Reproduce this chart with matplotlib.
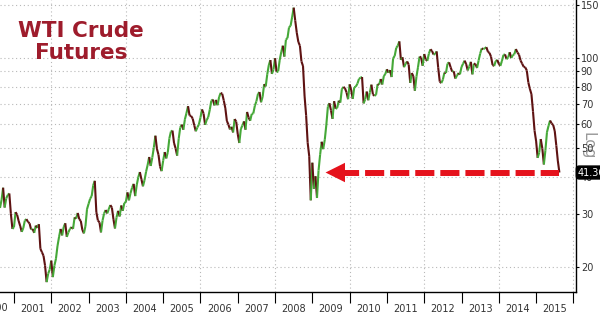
import matplotlib
matplotlib.use('Agg')
import matplotlib.pyplot as plt
from matplotlib.collections import LineCollection
import numpy as np

# WTI front month, semi-monthly readings (1st and 15th)
start_year = 2000.625  # mid-August 2000
p2000 = [31.5, 33.5, 36.8, 31.6, 33.9, 34.8, 35.2, 30.1, 26.8]
p2001 = [27.2, 30.5, 29.9, 28.5, 27.4, 26.2, 27.0, 28.6, 28.9, 28.3, 28.0, 26.7,
         26.8, 26.0, 27.5, 27.0, 27.8, 23.0, 22.4, 21.8, 20.2, 17.8, 19.0, 19.6]
p2002 = [21.0, 18.5, 20.2, 21.3, 23.5, 25.2, 26.8, 25.5, 27.2, 28.0, 25.2, 26.1,
         26.8, 27.2, 26.8, 29.3, 29.0, 30.3, 28.9, 28.5, 26.6, 25.9, 27.4, 31.2]
p2003 = [32.5, 33.8, 34.5, 37.5, 38.8, 30.5, 28.6, 28.2, 26.1, 28.6, 30.2, 31.0,
         30.2, 31.2, 32.2, 31.6, 28.9, 26.9, 29.3, 30.8, 29.5, 32.1, 30.8, 32.7]
p2004 = [33.0, 35.5, 33.4, 35.3, 36.8, 37.9, 34.5, 37.6, 39.9, 41.5, 39.3, 37.2,
         39.0, 41.6, 43.8, 46.6, 43.5, 46.4, 50.1, 54.9, 49.6, 47.4, 43.3, 41.8]
p2005 = [45.3, 48.4, 46.1, 48.4, 53.8, 56.7, 57.1, 51.9, 49.8, 47.1, 53.6, 58.5,
         59.8, 57.5, 62.3, 65.3, 68.9, 64.1, 63.9, 62.6, 59.5, 56.8, 58.5, 59.9]
p2006 = [63.1, 67.2, 65.1, 59.7, 61.9, 63.3, 67.0, 71.9, 72.5, 69.3, 72.3, 69.4,
         73.9, 76.3, 75.8, 72.0, 67.9, 61.5, 59.8, 57.6, 58.8, 56.3, 62.4, 61.2]
p2007 = [55.6, 51.9, 57.8, 59.4, 61.3, 57.5, 65.9, 63.1, 61.6, 64.9, 65.1, 69.1,
         71.5, 75.6, 76.8, 71.0, 74.0, 81.6, 80.2, 88.1, 94.5, 98.2, 88.3, 91.4]
p2008 = [99.6, 89.5, 90.0, 98.2, 104.5, 109.7, 100.9, 114.9, 116.3, 126.3, 127.8, 136.7,
         147.0, 133.0, 121.1, 112.9, 109.7, 97.2, 93.8, 74.5, 64.2, 52.0, 46.9, 33.4]
p2009 = [44.6, 36.5, 40.2, 34.0, 42.0, 47.4, 52.4, 49.5, 53.2, 59.6, 68.6, 70.5,
         66.7, 62.5, 71.6, 67.5, 68.0, 71.9, 70.8, 78.5, 79.9, 79.1, 76.6, 72.7]
p2010 = [81.5, 78.0, 72.9, 79.7, 80.1, 81.9, 84.9, 85.8, 86.2, 70.4, 72.6, 77.1,
         72.1, 76.5, 81.3, 75.4, 74.6, 75.2, 81.6, 81.3, 84.9, 81.4, 86.8, 88.3]
p2011 = [91.5, 89.1, 90.9, 86.2, 99.6, 101.4, 107.9, 109.7, 113.4, 98.4, 100.4, 93.0,
         95.4, 97.2, 94.9, 82.4, 88.9, 86.8, 77.6, 86.4, 93.0, 100.9, 100.2, 94.0]
p2012 = [102.9, 98.7, 97.6, 103.2, 106.7, 105.4, 102.5, 102.8, 105.0, 92.6, 83.2, 82.3,
         84.5, 89.2, 88.9, 95.6, 96.5, 92.9, 89.9, 90.1, 85.2, 86.9, 88.9, 88.0]
p2013 = [93.1, 95.5, 97.8, 95.2, 90.7, 93.5, 96.9, 88.0, 95.6, 95.2, 92.4, 97.9,
         103.2, 107.4, 106.9, 107.5, 108.5, 104.7, 103.8, 100.8, 94.6, 93.8, 97.4, 98.4]
p2014 = [95.4, 93.9, 97.5, 102.2, 102.6, 98.9, 100.1, 104.3, 99.8, 102.0, 102.7, 106.9,
         104.1, 102.4, 97.9, 95.6, 93.3, 92.9, 90.7, 82.7, 78.7, 75.6, 66.2, 57.1]
p2015 = [52.7, 46.3, 48.2, 53.5, 49.8, 44.0, 49.1, 56.4, 59.2, 61.7, 60.3, 59.6,
         56.9, 50.9, 45.2, 41.36]

prices = np.array(p2000 + p2001 + p2002 + p2003 + p2004 + p2005 + p2006 + p2007 +
                  p2008 + p2009 + p2010 + p2011 + p2012 + p2013 + p2014 + p2015)
dates = start_year + np.arange(len(prices)) / 24.0

years = list(range(2000, 2016))
yticks = [20, 30, 40, 50, 60, 70, 80, 90, 100, 150]
last_label = '41.36'
arrow_tip = 2009.28

fig = plt.figure(figsize=(6, 3.14), dpi=100)
ax = fig.add_axes([0, 0.0701, 0.96, 0.9299])
ax.set_yscale('log')
ax.set_ylim(16.5, 155.9)
ax.set_xlim(2000.625, 2016.07)

# gridlines
for v in yticks:
    ax.axhline(v, color='#b8b8b8', lw=0.8, ls=(0, (1, 2.5)), zorder=0)
for yr in range(2002, 2017, 2):
    ax.axvline(yr, color='#b8b8b8', lw=0.8, ls=(0, (1, 2.5)), zorder=0)

# price line: green when rising, dark red when falling
pts = np.column_stack([dates, prices])
segs = np.stack([pts[:-1], pts[1:]], axis=1)
cols = ['#45a838' if b >= a else '#5e1212' for a, b in zip(prices[:-1], prices[1:])]
lc = LineCollection(segs, colors=cols, linewidths=1.5, zorder=3)
ax.add_collection(lc)

# red dashed arrow back to the 2009 lows
last_x, last_y = dates[-1], prices[-1]
ax.plot([arrow_tip + 0.45, last_x], [last_y, last_y], color='#e5121c', lw=4.3,
        dashes=(3.2, 1.0), solid_capstyle='butt', dash_capstyle='butt', zorder=5)
ax.annotate('', xy=(arrow_tip, last_y), xytext=(arrow_tip + 0.55, last_y),
            arrowprops=dict(arrowstyle='-|>,head_length=1.4,head_width=0.7',
                            mutation_scale=10, color='#e5121c', lw=0),
            zorder=6)

# axes cosmetics
for s in ['top', 'left']:
    ax.spines[s].set_visible(False)
ax.spines['right'].set_linewidth(1.0)
ax.spines['bottom'].set_linewidth(1.0)
ax.yaxis.tick_right()
ax.set_yticks(yticks)
ax.set_yticklabels([str(v) for v in yticks])
ax.yaxis.set_minor_locator(matplotlib.ticker.NullLocator())
ax.tick_params(axis='y', which='major', length=2.5, width=0.8, pad=1,
               labelsize=7, labelcolor='#333333')

ax.set_xticks(range(2001, 2017))
ax.set_xticklabels([])
ax.set_xticks([y + 0.5 for y in years[1:]], minor=True)
ax.set_xticklabels([str(y) for y in years[1:]], minor=True)
ax.tick_params(axis='x', which='major', length=8, width=0.8)
ax.tick_params(axis='x', which='minor', length=0, pad=8.5,
               labelsize=7, labelcolor='#333333')
ax.text(2000.5, -0.036, '2000', transform=ax.get_xaxis_transform(),
        ha='center', va='top', fontsize=7, color='#333333', clip_on=False)

# last value tag
ax.text(1.003, last_y, last_label, transform=ax.get_yaxis_transform(),
        ha='left', va='center', fontsize=7, color='white', zorder=10,
        bbox=dict(boxstyle='round,pad=0.15,rounding_size=0.3', fc='black', ec='black'))
ax.text(1.021, 0.5, 'Log', transform=ax.transAxes, rotation=270,
        ha='center', va='center', fontsize=11, color='#999999', zorder=1)

# title
fig.text(0.135, 0.866, 'WTI Crude\nFutures', ha='center', va='center',
         fontsize=15.5, fontweight='bold', color='#9e1c2c', linespacing=1.15)

fig.savefig('out.png', dpi=100)
